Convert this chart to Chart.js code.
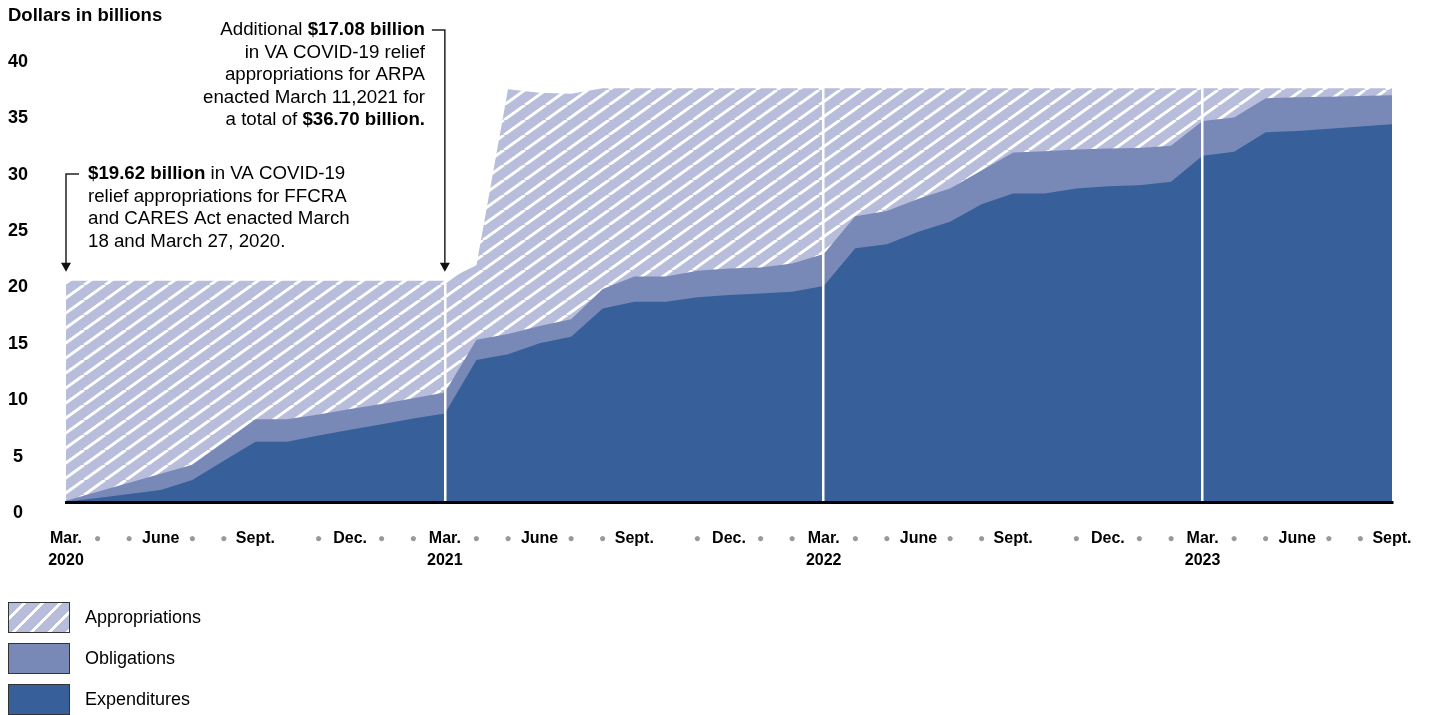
<!DOCTYPE html>
<html>
<head>
<meta charset="utf-8">
<script src="https://cdn.jsdelivr.net/npm/chart.js@4"></script>
<style>
  body { margin: 0; background: #fff; font-family: 'Liberation Sans', Arial, sans-serif; }
  #wrap { position: relative; width: 1429px; height: 715px; }
  .legend { position: absolute; left: 8px; top: 601px; }
  .row { display: flex; align-items: center; height: 32px; margin-bottom: 9px; }
  .sw { width: 60px; height: 29px; border: 1.5px solid #333; }
  .row span { margin-left: 15px; font-size: 18px; color: #000; }
</style>
</head>
<body>
<div id="wrap">
  <canvas id="chart" width="1429" height="715"></canvas>
  <div class="legend">
    <div class="row"><div class="sw" style="background: repeating-linear-gradient(135deg, #b7bddb 0 9.7px, #fff 9.7px 12.7px)"></div><span>Appropriations</span></div>
    <div class="row"><div class="sw" style="background:#7889b8"></div><span>Obligations</span></div>
    <div class="row"><div class="sw" style="background:#37609b"></div><span>Expenditures</span></div>
  </div>
</div>
<script>
const FONT = '"Liberation Sans", Arial, sans-serif'

// Mar. 2020 .. Sept. 2023, one entry a month
const months = [
  ['Mar.', '2020'], '●', '●', 'June', '●', '●', 'Sept.', '', '●', 'Dec.', '●', '●',
  ['Mar.', '2021'], '●', '●', 'June', '●', '●', 'Sept.', '', '●', 'Dec.', '●', '●',
  ['Mar.', '2022'], '●', '●', 'June', '●', '●', 'Sept.', '', '●', 'Dec.', '●', '●',
  ['Mar.', '2023'], '●', '●', 'June', '●', '●', 'Sept.'
]
const yearStarts = [12, 24, 36]

// dollars in billions
const appropriations = [
  19.62, 19.62, 19.62, 19.62, 19.62, 19.62, 19.62, 19.62, 19.62, 19.62, 19.62, 19.62,
  19.62, 21.0, 36.6, 36.3, 36.2, 36.7, 36.7, 36.7, 36.7, 36.7, 36.7, 36.7,
  36.7, 36.7, 36.7, 36.7, 36.7, 36.7, 36.7, 36.7, 36.7, 36.7, 36.7, 36.7,
  36.7, 36.7, 36.7, 36.7, 36.7, 36.7, 36.7
]
const obligations = [
  0.1, 0.9, 1.7, 2.5, 3.3, 5.3, 7.33, 7.33, 7.75, 8.25, 8.7, 9.2,
  9.72, 14.4, 14.9, 15.6, 16.2, 18.9, 20.0, 20.0, 20.5, 20.7, 20.8, 21.15,
  22.0, 25.35, 25.8, 26.9, 27.8, 29.4, 31.0, 31.1, 31.27, 31.36, 31.4, 31.6,
  33.8, 34.1, 35.8, 35.9, 35.95, 36.0, 36.08
]
const expenditures = [
  0.05, 0.35, 0.7, 1.06, 1.95, 3.65, 5.35, 5.35, 5.9, 6.4, 6.9, 7.4,
  7.86, 12.6, 13.1, 14.07, 14.66, 17.17, 17.76, 17.76, 18.15, 18.35, 18.5, 18.65,
  19.15, 22.5, 22.85, 23.96, 24.85, 26.4, 27.37, 27.37, 27.8, 28.0, 28.1, 28.4,
  30.7, 31.06, 32.8, 32.9, 33.1, 33.3, 33.5
]

const noteFirst = [
  [['$19.62 billion', true], [' in VA COVID-19', false]],
  [['relief appropriations for FFCRA', false]],
  [['and CARES Act enacted March', false]],
  [['18 and March 27, 2020.', false]]
]
const noteSecond = [
  [['Additional ', false], ['$17.08 billion', true]],
  [['in VA COVID-19 relief', false]],
  [['appropriations for ARPA', false]],
  [['enacted March 11,2021 for', false]],
  [['a total of ', false], ['$36.70 billion.', true]]
]

function hatch() {
  const w = 21
  const h = 15
  const c = document.createElement('canvas')
  c.width = w
  c.height = h
  const g = c.getContext('2d')
  g.fillStyle = '#b7bddb'
  g.fillRect(0, 0, w, h)
  g.strokeStyle = '#fff'
  g.lineWidth = 3
  g.beginPath()
  for (const dx of [-w, 0, w]) {
    g.moveTo(dx, h)
    g.lineTo(dx + w, 0)
  }
  g.stroke()
  return g.createPattern(c, 'repeat')
}

function richLine(ctx, parts, x, y, align) {
  const fonts = parts.map((p) => (p[1] ? 'bold ' : '') + '18.7px ' + FONT)
  let w = 0
  parts.forEach((p, i) => {
    ctx.font = fonts[i]
    w += ctx.measureText(p[0]).width
  })
  let cx = align === 'right' ? x - w : x
  ctx.textAlign = 'left'
  parts.forEach((p, i) => {
    ctx.font = fonts[i]
    ctx.fillText(p[0], cx, y)
    cx += ctx.measureText(p[0]).width
  })
}

function arrow(ctx, x0, yTop, hx, tipY) {
  ctx.strokeStyle = '#222'
  ctx.fillStyle = '#111'
  ctx.lineWidth = 1.5
  ctx.beginPath()
  ctx.moveTo(hx, yTop)
  ctx.lineTo(x0, yTop)
  ctx.lineTo(x0, tipY - 7)
  ctx.stroke()
  ctx.beginPath()
  ctx.moveTo(x0 - 5, tipY - 9)
  ctx.lineTo(x0 + 5, tipY - 9)
  ctx.lineTo(x0, tipY)
  ctx.closePath()
  ctx.fill()
}

const notes = {
  id: 'notes',
  afterDraw(chart) {
    const { ctx, scales: { x, y } } = chart
    ctx.save()
    ctx.fillStyle = '#000'
    ctx.textBaseline = 'middle'
    ctx.textAlign = 'left'
    ctx.font = 'bold 18.5px ' + FONT
    ctx.fillText('Dollars in billions', 8, 16)

    noteFirst.forEach((line, i) => richLine(ctx, line, 88, 174 + i * 22.5, 'left'))
    noteSecond.forEach((line, i) => richLine(ctx, line, 425, 30 + i * 22.5, 'right'))

    const x1 = x.getPixelForValue(0)
    arrow(ctx, x1, 174, x1 + 13, y.getPixelForValue(appropriations[0]) - 9)
    const x2 = x.getPixelForValue(12)
    arrow(ctx, x2, 30, x2 - 13, y.getPixelForValue(appropriations[12]) - 9)
    ctx.restore()
  }
}

new Chart(document.getElementById('chart'), {
  type: 'line',
  data: {
    labels: months,
    datasets: [
      { label: 'Expenditures', data: expenditures, backgroundColor: '#37609b', fill: 'origin' },
      { label: 'Obligations', data: obligations, backgroundColor: '#7889b8', fill: 'origin' },
      { label: 'Appropriations', data: appropriations, backgroundColor: hatch(), fill: 'origin' }
    ]
  },
  options: {
    responsive: false,
    animation: false,
    layout: { padding: { top: 51, right: 37, left: 0, bottom: 0 } },
    elements: {
      line: { borderWidth: 0, tension: 0 },
      point: { radius: 0 }
    },
    plugins: {
      legend: { display: false },
      tooltip: { enabled: false }
    },
    scales: {
      x: {
        afterFit: (s) => {
          s.height = 213
          s.paddingLeft = 0
          s.paddingRight = 0
        },
        border: { color: '#000', width: 3, z: 2 },
        grid: {
          z: 1,
          drawTicks: false,
          lineWidth: 2.5,
          color: (c) => (yearStarts.includes(c.index) ? '#fff' : 'rgba(0,0,0,0)')
        },
        ticks: {
          autoSkip: false,
          maxRotation: 0,
          padding: 26,
          color: (c) => (c.tick && c.tick.label === '●' ? '#999' : '#000'),
          font: (c) => (c.tick && c.tick.label === '●'
            ? { family: FONT, size: 12, lineHeight: 22 / 12 }
            : { family: FONT, size: 16, weight: 'bold', lineHeight: 1.375 })
        }
      },
      y: {
        min: 0,
        max: 40,
        afterFit: (s) => { s.width = 66 },
        border: { display: false },
        grid: { display: false, drawTicks: false },
        ticks: {
          stepSize: 5,
          crossAlign: 'center',
          padding: 38,
          labelOffset: 11,
          color: '#000',
          font: { family: FONT, size: 18, weight: 'bold' }
        }
      }
    }
  },
  plugins: [notes]
})
</script>
</body>
</html>
